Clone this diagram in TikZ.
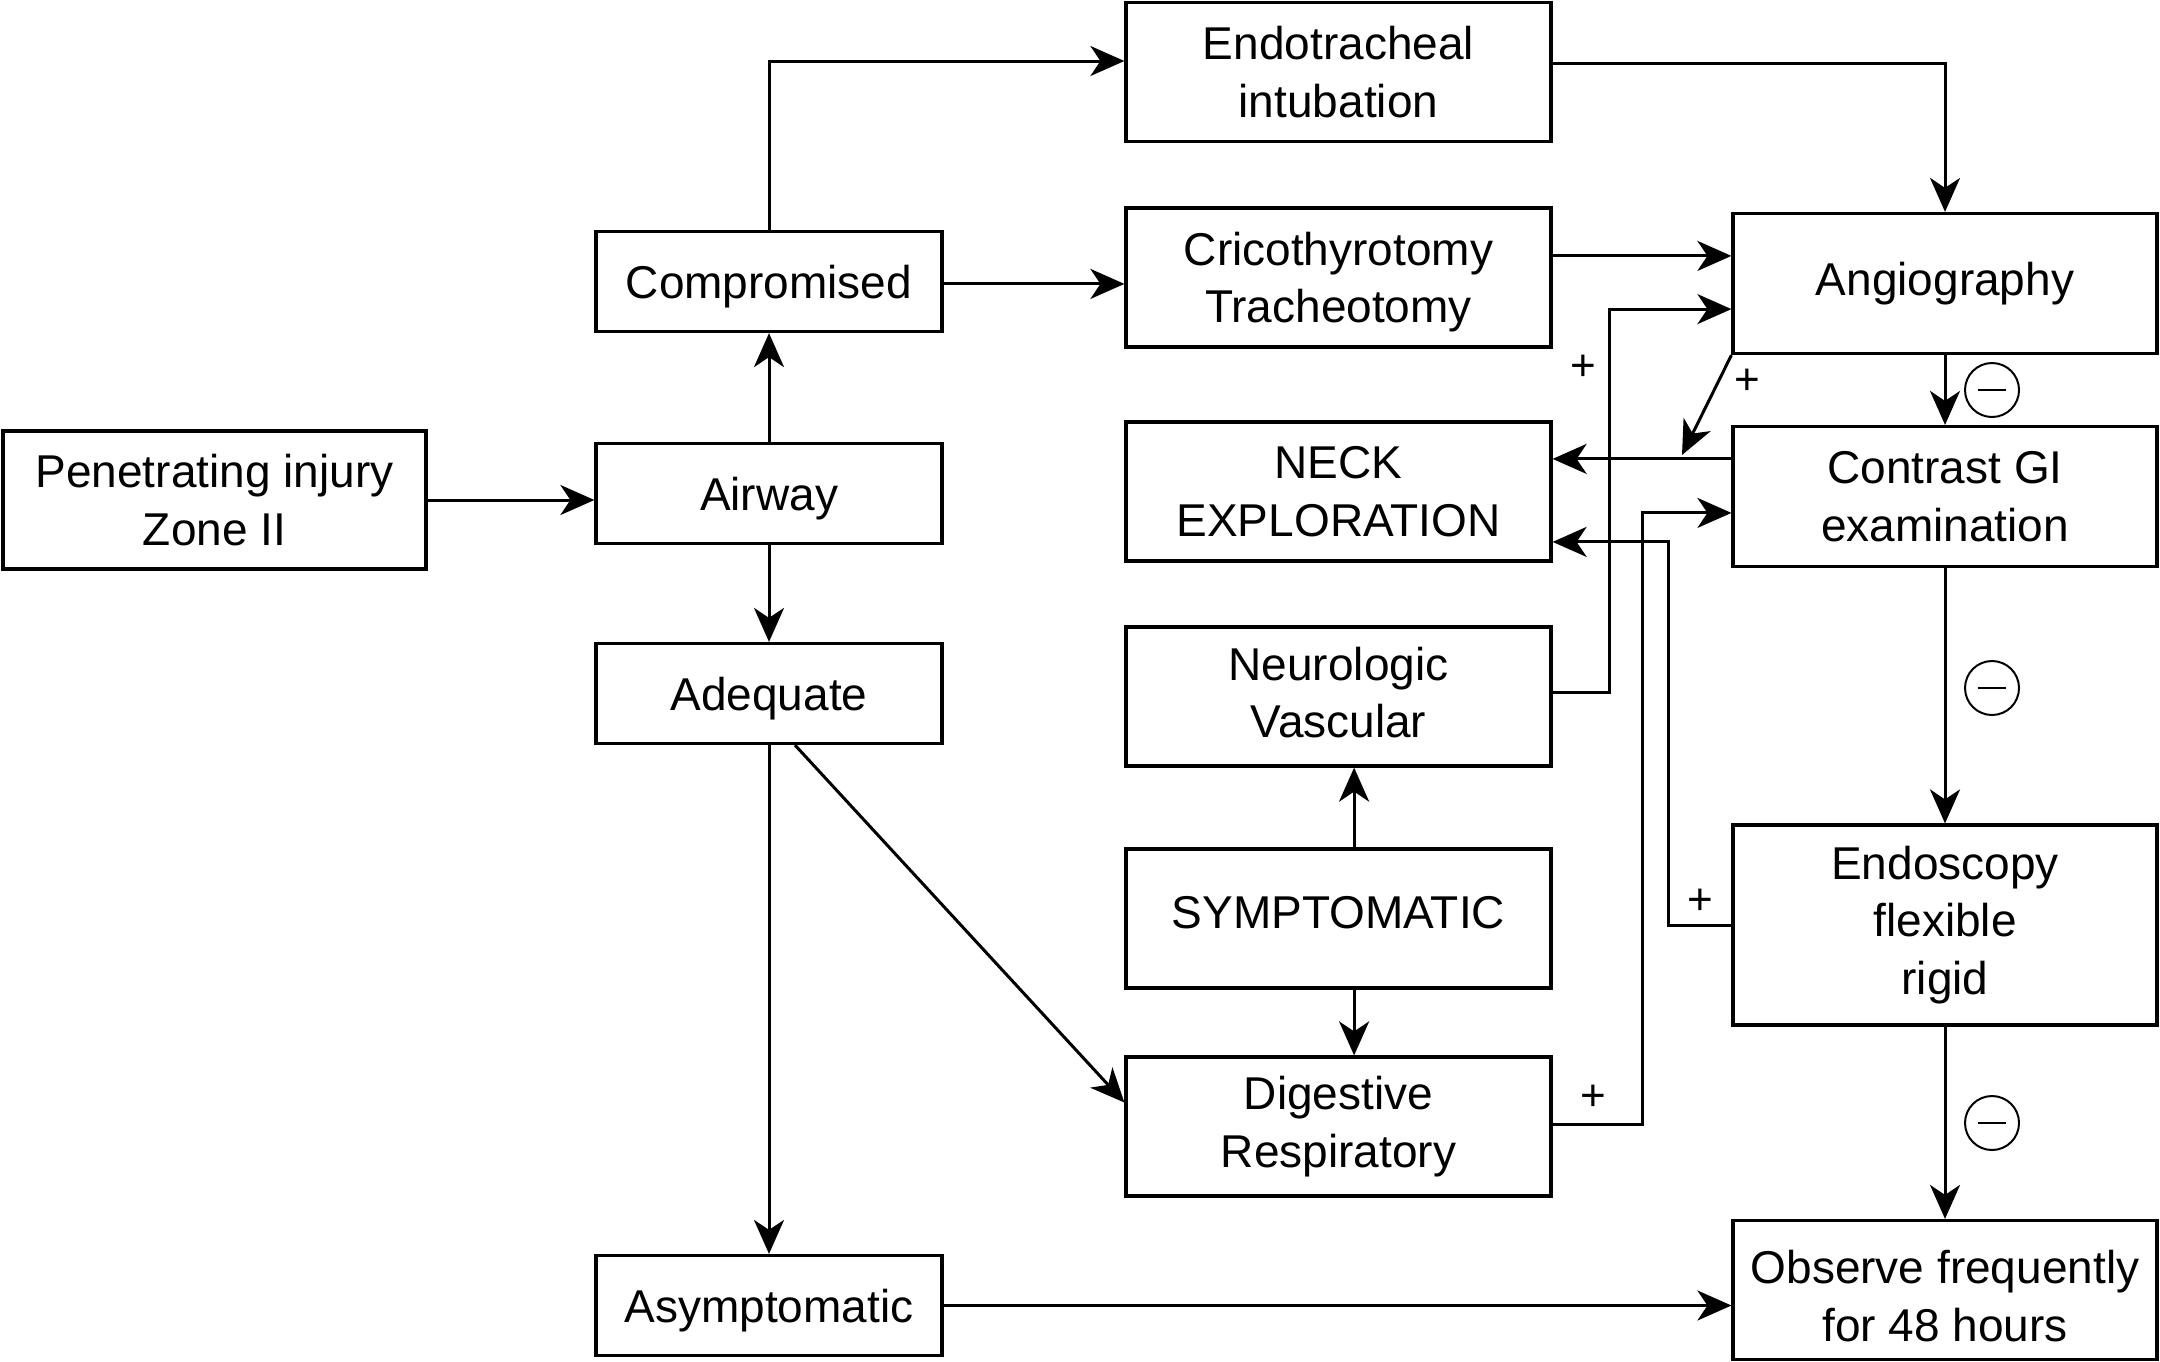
\documentclass[tikz,border=0pt]{standalone}
\usepackage{fontspec}
\setmainfont{Liberation Sans}
\usetikzlibrary{arrows.meta,calc}
\begin{document}
\begin{tikzpicture}[x=0.25pt,y=-0.25pt,
  box/.style={draw,line width=0.8pt,align=center,inner sep=0pt,font=\fontsize{11.5}{14.4}\selectfont},
  lbox/.style={box,minimum width=86.5pt,minimum height=25pt,text depth=0pt},
  mbox/.style={box,minimum width=106.25pt,minimum height=34.75pt},
  rbox/.style={box,minimum width=106pt,minimum height=35pt},
  arr/.style={line width=0.75pt,-{Stealth[length=8.5pt,width=7.5pt,inset=2.5pt]}},
  plus/.style={font=\fontsize{11}{11}\selectfont,inner sep=0pt},
  neg/.style={circle,draw,line width=0.5pt,minimum size=13.5pt,inner sep=0pt,
    path picture={\draw[line width=0.5pt] ([xshift=-3.6pt]path picture bounding box.center) -- ([xshift=3.6pt]path picture bounding box.center);}}
]
\useasboundingbox (0,0) rectangle (2160,1361);

% left
\node[box,minimum width=105.75pt,minimum height=34.5pt] (pen) at (214.5,500) {Penetrating injury\\Zone II};
\node[lbox] (air) at (769,493.5) {Airway};
\node[lbox] (comp) at (769,281.5) {Compromised};
\node[lbox] (adeq) at (769,693.5) {Adequate};
\node[lbox] (asym) at (769,1305.5) {Asymptomatic};

% middle
\node[mbox] (endo) at (1338.5,72) {Endotracheal\\intubation};
\node[mbox,text depth=0pt] (crico) at (1338.5,277.5) {Cricothyrotomy\\Tracheotomy};
\node[mbox] (neck) at (1338.5,491.5) {NECK\\EXPLORATION};
\node[mbox,text depth=2pt] (neuro) at (1338.5,696.5) {Neurologic\\Vascular};
\node[mbox,text depth=3.2pt] (symp) at (1338.5,918.5) {SYMPTOMATIC};
\node[mbox] (dig) at (1338.5,1126.5) {Digestive\\Respiratory};

% right
\node[rbox] (angio) at (1945,283.5) {Angiography};
\node[rbox] (contr) at (1945,496.5) {Contrast GI\\examination};
\node[rbox,minimum height=50pt] (endos) at (1945,925) {Endoscopy\\flexible\\rigid};
\node[rbox,minimum height=34.75pt,text height=25.6pt,text depth=0pt] (obs) at (1945,1290) {Observe frequently\\for 48 hours};

% connectors
\draw[arr] (pen.east) -- (pen.east -| air.west);
\draw[arr] (air) -- (comp);
\draw[arr] (air) -- (adeq);
\draw[arr] (adeq) -- (asym);
\draw[arr] (comp.north) |- ([yshift=2.75pt]endo.west);
\draw[arr] ([yshift=-0.6pt]comp.east) -- ([yshift=-0.6pt]comp.east -| crico.west);
\draw[arr] ([yshift=2.25pt]endo.east) -| (angio.north);
\draw[arr] ([yshift=5.4pt]crico.east) -- ([yshift=5.4pt]crico.east -| angio.west);
\draw[arr] ([yshift=1.1pt]neuro.east) -- ++(57,0) |- ([yshift=-6.4pt]angio.west);
\coordinate (dtip) at (1682,455);
\draw[arr] (angio.south west) -- (dtip);
\draw[arr] ([yshift=9.4pt]contr.west) -- ([yshift=9.4pt]contr.west -| neck.east);
\draw[arr] (angio) -- (contr);
\draw[arr] ([yshift=0.6pt]dig.east) -- ++(90,0) |- ([yshift=-4.1pt]contr.west);
\draw[arr] (endos.west) -- ++(-63,0) |- ([yshift=-12.6pt]neck.east);
\draw[arr] (contr) -- (endos);
\draw[arr] (endos) -- (obs);
\draw[arr] (asym.east) -- (asym.east -| obs.west);
\draw[arr] ([xshift=6.5pt]adeq.south) -- ([yshift=6pt]dig.west);
\draw[arr] ([xshift=3.9pt]symp.north) -- ([xshift=3.9pt]neuro.south);
\draw[arr] ([xshift=3.9pt]symp.south) -- ([xshift=3.9pt]dig.north);

% labels
\node[plus] (p1) at (1583,368) {+};
\node[plus] (p2) at (1747,382) {+};
\node[plus] (p3) at (1700,902) {+};
\node[plus] (p4) at (1593,1098) {+};
\node[neg] (m1) at (1992,390) {};
\node[neg] (m2) at (1992,688) {};
\node[neg] (m3) at (1992,1123) {};
\end{tikzpicture}
\end{document}
